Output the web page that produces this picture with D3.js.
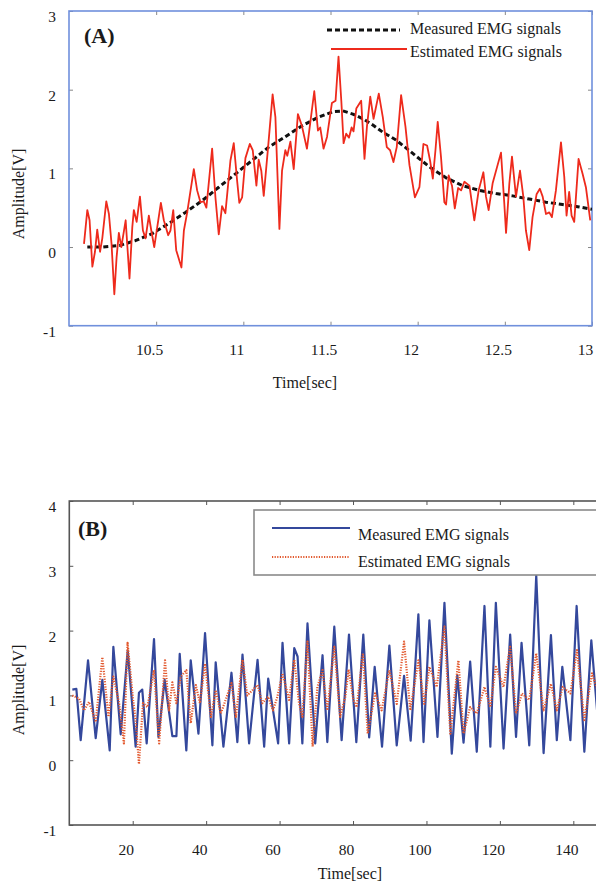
<!DOCTYPE html>
<html>
<head>
<meta charset="utf-8">
<script src="https://cdn.jsdelivr.net/npm/d3@7/dist/d3.min.js"></script>
<style>
  body { margin: 0; background: #fff; }
  svg text { font-family: "Liberation Serif", "Times New Roman", serif; fill: #1a1a1a; }
</style>
</head>
<body>
<svg id="chart" width="596" height="885"></svg>
<script>
// ---- panel (A) ----
var timeEstA = [10.086, 10.105, 10.118, 10.134, 10.149, 10.162, 10.178, 10.191, 10.214, 10.229,
  10.244, 10.26, 10.273, 10.286, 10.3, 10.325, 10.347, 10.363, 10.372, 10.388,
  10.407, 10.424, 10.439, 10.458, 10.472, 10.489, 10.506, 10.527, 10.544, 10.569,
  10.582, 10.598, 10.615, 10.645, 10.659, 10.678, 10.716, 10.735, 10.754, 10.773,
  10.788, 10.821, 10.84, 10.859, 10.878, 10.897, 10.926, 10.945, 10.964, 10.977,
  10.993, 11.012, 11.037, 11.054, 11.075, 11.088, 11.103, 11.117, 11.142, 11.168,
  11.184, 11.207, 11.222, 11.241, 11.252, 11.27, 11.289, 11.313, 11.336, 11.365,
  11.407, 11.428, 11.441, 11.46, 11.48, 11.508, 11.529, 11.546, 11.562, 11.575,
  11.59, 11.606, 11.621, 11.632, 11.648, 11.676, 11.695, 11.709, 11.728, 11.747,
  11.777, 11.8, 11.823, 11.842, 11.861, 11.88, 11.905, 11.93, 11.953, 11.984,
  12.01, 12.033, 12.054, 12.071, 12.087, 12.102, 12.115, 12.134, 12.153, 12.163,
  12.178, 12.197, 12.213, 12.232, 12.249, 12.268, 12.297, 12.325, 12.35, 12.377,
  12.392, 12.407, 12.43, 12.478, 12.497, 12.507, 12.526, 12.541, 12.564, 12.587,
  12.606, 12.621, 12.64, 12.659, 12.682, 12.701, 12.717, 12.736, 12.755, 12.77,
  12.793, 12.822, 12.841, 12.854, 12.869, 12.883, 12.898, 12.923, 12.946, 12.965, 12.99];
var estimatedA = [0.04, 0.47, 0.34, -0.25, -0.06, 0.22, -0.06, 0.11, 0.58, 0.42,
  0.04, -0.6, -0.13, 0.18, 0.0, 0.34, -0.4, 0.25, 0.47, 0.32,
  0.64, 0.21, 0.11, 0.4, 0.21, 0.0, 0.25, 0.56, 0.34, 0.15,
  0.21, 0.47, -0.04, -0.26, 0.21, 0.44, 0.99, 0.72, 0.57, 0.58,
  0.5, 1.25, 0.63, 0.16, 0.52, 0.43, 1.1, 1.32, 0.85, 0.56,
  0.63, 1.13, 1.31, 1.23, 0.78, 1.11, 0.97, 0.65, 1.27, 1.94,
  1.65, 0.23, 0.97, 1.23, 1.16, 1.34, 0.99, 1.69, 1.54, 1.25,
  1.98, 1.48, 1.52, 1.25, 1.4, 1.83, 1.86, 2.42, 1.86, 1.32,
  1.44, 1.39, 1.52, 1.47, 1.76, 1.86, 1.12, 1.53, 1.91, 1.63,
  1.95, 1.65, 1.27, 1.23, 1.08, 1.27, 1.93, 1.53, 1.04, 0.63,
  0.76, 1.31, 1.29, 1.1, 0.87, 1.23, 1.59, 1.14, 0.57, 0.54,
  0.91, 0.78, 0.49, 0.75, 0.72, 0.83, 0.78, 0.34, 0.72, 0.95,
  0.64, 0.47, 0.81, 1.2, 0.55, 0.18, 0.81, 1.15, 0.64, 0.97,
  0.64, 0.21, -0.04, 0.38, 0.67, 0.74, 0.64, 0.42, 0.44, 0.38,
  0.72, 1.33, 0.89, 0.4, 0.7, 0.4, 0.32, 1.12, 0.93, 0.76, 0.34];
var timeMeasA = [10.105, 10.19, 10.29, 10.38, 10.477, 10.573, 10.668, 10.764, 10.859, 10.955,
  11.05, 11.145, 11.24, 11.336, 11.43, 11.514, 11.571, 11.628, 11.686, 11.743,
  11.8, 11.876, 11.972, 12.067, 12.163, 12.258, 12.354, 12.449, 12.545, 12.64,
  12.736, 12.831, 12.927, 13.0];
var measuredA = [0.0, 0.0, 0.02, 0.08, 0.17, 0.3, 0.44, 0.59, 0.76, 0.93,
  1.1, 1.27, 1.4, 1.54, 1.65, 1.72, 1.73, 1.69, 1.63, 1.55,
  1.46, 1.36, 1.19, 1.02, 0.88, 0.78, 0.72, 0.68, 0.65, 0.61,
  0.57, 0.54, 0.51, 0.48];
var xTicksA = [10.5, 11, 11.5, 12, 12.5, 13];
var yTicksA = [-1, 0, 1, 2, 3];

// ---- panel (B) ----
var timeMeasB = [3.56, 4.65, 5.83, 7.83, 9.92, 11.73, 13.73, 14.73, 16.73, 18.64,
  20.8, 21.7, 22.6, 23.8, 25.8, 27.0, 28.7, 30.8, 31.9, 32.8,
  34.6, 35.8, 37.9, 39.7, 41.7, 42.6, 44.7, 46.9, 48.5, 49.9,
  51.7, 54.0, 55.8, 56.9, 59.6, 60.8, 62.6, 64.0, 64.9, 66.2,
  67.6, 69.7, 71.7, 73.0, 74.9, 76.9, 78.9, 80.9, 82.8, 84.4,
  85.9, 87.9, 89.9, 91.9, 93.9, 95.7, 97.8, 99.2, 100.8, 103.0,
  104.9, 106.9, 108.4, 110.1, 111.9, 113.7, 115.8, 117.4, 118.9, 121.0,
  122.8, 124.4, 125.9, 128.0, 129.9, 131.9, 133.9, 135.5, 137.0, 139.2,
  140.9, 143.0, 144.9, 147.0];
var measuredB = [1.09, 1.1, 0.31, 1.54, 0.34, 1.24, 0.15, 1.75, 0.4, 1.69,
  0.21, 1.04, 1.09, 0.26, 1.87, 0.36, 1.24, 0.37, 0.37, 1.64,
  0.15, 1.54, 0.41, 1.96, 0.23, 1.51, 0.21, 1.35, 0.28, 1.63,
  0.26, 1.55, 0.21, 1.26, 0.26, 1.81, 0.26, 1.73, 1.6, 0.26,
  2.11, 0.26, 1.62, 0.28, 2.06, 0.31, 1.94, 0.28, 1.94, 0.35,
  1.44, 0.21, 1.77, 0.23, 1.3, 0.3, 2.25, 0.28, 2.16, 0.36,
  2.43, 0.1, 1.31, 0.27, 1.52, 0.13, 2.38, 0.21, 2.43, 0.18,
  1.94, 0.36, 1.81, 0.23, 2.85, 0.11, 1.93, 0.31, 1.44, 0.31,
  2.38, 0.13, 1.85, 0.4];
var timeEstB = [3.56, 5.4, 6.74, 8.1, 9.92, 11.73, 13.4, 14.73, 16.3, 17.6,
  18.6, 20.1, 20.8, 21.7, 22.8, 24.0, 25.8, 27.2, 28.8, 29.9,
  30.8, 31.9, 33.1, 34.6, 35.8, 37.2, 38.3, 39.7, 41.3, 42.6,
  44.0, 45.3, 46.9, 48.1, 49.9, 51.2, 52.6, 54.0, 55.3, 56.9,
  58.2, 59.4, 60.8, 62.6, 64.0, 65.3, 66.2, 67.6, 69.0, 70.3,
  71.7, 73.0, 74.9, 76.5, 77.9, 78.8, 80.1, 81.0, 82.7, 84.0,
  86.0, 87.8, 89.9, 91.9, 93.9, 95.6, 97.8, 99.4, 100.8, 102.8,
  104.9, 106.5, 108.7, 110.1, 111.9, 113.7, 115.8, 117.4, 118.9, 121.0,
  122.8, 124.4, 126.0, 128.0, 129.9, 131.9, 133.9, 135.5, 137.1, 139.2,
  141.0, 143.0, 145.1, 147.0];
var estimatedB = [1.0, 0.95, 0.77, 0.9, 0.59, 1.59, 0.67, 1.29, 0.88, 0.26,
  1.81, 0.93, 0.62, -0.06, 0.88, 0.82, 1.39, 0.26, 1.54, 0.77,
  1.2, 0.88, 1.29, 1.39, 0.57, 1.16, 0.88, 1.49, 0.67, 1.08,
  0.72, 0.93, 1.19, 0.67, 1.55, 1.0, 1.08, 1.16, 0.88, 0.98,
  0.77, 0.98, 1.34, 0.93, 1.55, 0.88, 0.67, 1.83, 0.21, 1.13,
  1.39, 0.77, 1.75, 0.67, 0.98, 1.4, 0.93, 0.82, 1.65, 0.41,
  1.03, 0.77, 1.39, 0.87, 1.83, 0.77, 1.54, 0.87, 1.44, 1.13,
  2.06, 0.41, 1.54, 0.41, 0.82, 0.72, 1.13, 0.82, 1.44, 1.13,
  1.75, 0.72, 1.03, 0.93, 1.65, 0.77, 1.18, 0.77, 1.13, 1.03,
  1.7, 0.62, 1.34, 1.0];
var xTicksB = [20, 40, 60, 80, 100, 120, 140];
var yTicksB = [-1, 0, 1, 2, 3, 4];

var svg = d3.select('#chart');

function toPoints(ts, vs) {
  return ts.map(function(t, i) { return [t, vs[i]]; });
}

// plain hyphen for negatives, like the source figure
function plain(d) {
  return String(d);
}

// draws frame, four inward tick rows and the tick labels of one panel
function drawPanel(p) {
  var g = svg.append('g');
  var x = d3.scaleLinear().domain(p.xDomain).range(p.xRange);
  var y = d3.scaleLinear().domain(p.yDomain).range(p.yRange);
  var top = p.yRange[1], bottom = p.yRange[0];
  var left = p.xRange[0], right = p.xRange[1];

  var clipId = 'clip-' + p.name;
  svg.append('clipPath').attr('id', clipId).append('rect')
    .attr('x', left).attr('y', top).attr('width', right - left).attr('height', bottom - top);

  var axes = [
    [d3.axisBottom(x).tickValues(p.xTicks).tickFormat(plain), 0, bottom],
    [d3.axisTop(x).tickValues(p.xTicks).tickFormat(''), 0, top],
    [d3.axisLeft(y).tickValues(p.yTicks).tickFormat(plain), left, 0],
    [d3.axisRight(y).tickValues(p.yTicks).tickFormat(''), right, 0]
  ];
  axes.forEach(function(a, i) {
    var ax = g.append('g').attr('transform', 'translate(' + a[1] + ',' + a[2] + ')')
      .call(a[0].tickSize(-4).tickPadding(i === 0 ? 18.5 : 13));
    ax.select('.domain').remove();
    ax.selectAll('.tick line').attr('stroke', p.tickColor).attr('stroke-width', 1);
    ax.selectAll('text').attr('font-size', 15.5).attr('fill', '#1a1a1a')
      .attr('font-family', '"Liberation Serif", serif');
    if (i === 0) ax.selectAll('text').attr('dx', -7);
    if (i === 2) ax.selectAll('text').attr('dy', '0.68em');
  });

  g.append('rect')
    .attr('x', left).attr('y', top)
    .attr('width', right - left).attr('height', bottom - top)
    .attr('fill', 'none').attr('stroke', p.frameColor).attr('stroke-width', 1.6);

  var line = d3.line().x(function(d) { return x(d[0]); }).y(function(d) { return y(d[1]); });
  var lines = g.append('g').attr('clip-path', 'url(#' + clipId + ')');
  p.series.forEach(function(s) {
    lines.append('path').datum(s.points).attr('d', line)
      .attr('fill', 'none').attr('stroke', s.color).attr('stroke-width', s.width)
      .attr('stroke-dasharray', s.dash || null).attr('stroke-linejoin', 'round');
  });

  g.append('text').attr('x', p.tag[1]).attr('y', p.tag[2])
    .attr('font-size', 22).attr('font-weight', 'bold').text(p.tag[0]);
  g.append('text').attr('x', p.xLabel[0]).attr('y', p.xLabel[1])
    .attr('text-anchor', 'middle').attr('font-size', 16).text('Time[sec]');
  g.append('text').attr('transform', 'translate(' + p.yLabel[0] + ',' + p.yLabel[1] + ') rotate(-90)')
    .attr('text-anchor', 'middle').attr('dy', '0.35em').attr('font-size', 16).text('Amplitude[V]');

  // legend
  var lg = g.append('g');
  if (p.legendBox) {
    lg.append('rect').attr('x', p.legendBox[0]).attr('y', p.legendBox[1])
      .attr('width', p.legendBox[2]).attr('height', p.legendBox[3])
      .attr('fill', '#fff').attr('stroke', '#8a8a8a').attr('stroke-width', 1.6);
  }
  p.series.forEach(function(s, i) {
    var L = p.legend[i];
    lg.append('line').attr('x1', L.x1).attr('x2', L.x2).attr('y1', L.y).attr('y2', L.y)
      .attr('stroke', s.color).attr('stroke-width', s.width).attr('stroke-dasharray', s.dash || null);
    lg.append('text').attr('x', L.tx).attr('y', L.ty).attr('font-size', 16).text(s.label);
  });
}

drawPanel({
  name: 'a',
  xDomain: [10, 13], xRange: [69, 592],
  yDomain: [-1, 3], yRange: [325.7, 11],
  xTicks: xTicksA, yTicks: yTicksA,
  frameColor: '#7090dc', tickColor: '#888',
  tag: ['(A)', 84, 43],
  xLabel: [305, 388], yLabel: [18, 194],
  series: [
    {label: 'Measured EMG signals', points: toPoints(timeMeasA, measuredA), color: '#111', width: 3, dash: '5,3'},
    {label: 'Estimated EMG signals', points: toPoints(timeEstA, estimatedA), color: '#ee2a1c', width: 1.8}
  ],
  legend: [
    {x1: 327, x2: 400, y: 30, tx: 410, ty: 34},
    {x1: 331, x2: 407, y: 49, tx: 410, ty: 57}
  ]
});

drawPanel({
  name: 'b',
  xDomain: [2.73, 148], xRange: [69.3, 602.7],
  yDomain: [-1, 4], yRange: [825, 501],
  xTicks: xTicksB, yTicks: yTicksB,
  frameColor: '#555', tickColor: '#555',
  tag: ['(B)', 78, 536],
  xLabel: [350, 879], yLabel: [18, 690],
  legendBox: [254, 510, 360, 65],
  series: [
    {label: 'Measured EMG signals', points: toPoints(timeMeasB, measuredB), color: '#34489c', width: 2.2},
    {label: 'Estimated EMG signals', points: toPoints(timeEstB, estimatedB), color: '#e2572c', width: 2.2, dash: '1.2,1.4'}
  ],
  legend: [
    {x1: 272, x2: 350, y: 528, tx: 358, ty: 540},
    {x1: 272, x2: 350, y: 557, tx: 358, ty: 567}
  ]
});
</script>
</body>
</html>
